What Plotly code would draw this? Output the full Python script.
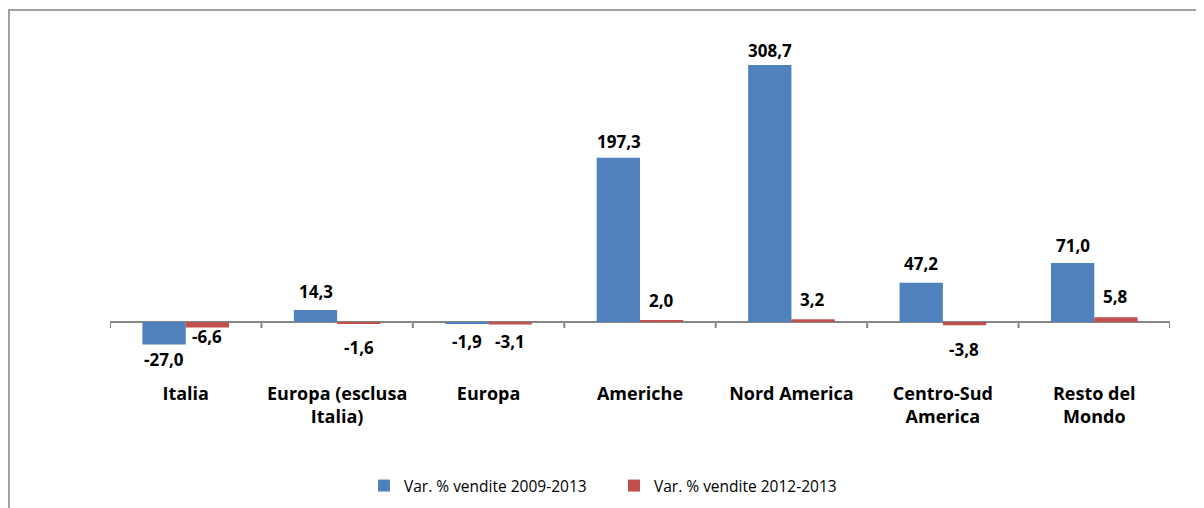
import plotly.graph_objects as go

categories = ["Italia", "Europa (esclusa<br>Italia)", "Europa", "Americhe",
              "Nord America", "Centro-Sud<br>America", "Resto del<br>Mondo"]
series_names = ["Var. % vendite 2009-2013", "Var. % vendite 2012-2013"]
vendite_2009_2013 = [-27.0, 14.3, -1.9, 197.3, 308.7, 47.2, 71.0]
vendite_2012_2013 = [-6.6, -1.6, -3.1, 2.0, 3.2, -3.8, 5.8]

colors = ["#4F81BD", "#C0504D"]
BOLD_FONT = "'Open Sans', Lato, sans-serif"
REG_FONT = "'Open Sans', Lato, sans-serif"

# label vertical offsets (pixels, relative to bar end)
shift_blue = [-15.5, 18.5, -18.4, 16.3, 14.6, 19.5, 17.0]
shift_red = [-9.0, -24.0, -17.4, 20.3, 20.3, -24.8, 20.2]

def fmt(v):
    return f"{v:.1f}".replace(".", ",")

x_idx = list(range(len(categories)))

fig = go.Figure()
for name, vals, col in zip(series_names, [vendite_2009_2013, vendite_2012_2013], colors):
    fig.add_trace(go.Bar(x=x_idx, y=vals, name=name, marker_color=col,
                         marker_line_width=0, hoverinfo="skip"))

label_font = dict(family=BOLD_FONT, size=17, color="#000000", weight="bold")
annotations = []
for i in x_idx:
    annotations.append(dict(x=i, y=vendite_2009_2013[i], xref="x", yref="y",
                            text=fmt(vendite_2009_2013[i]), showarrow=False,
                            xshift=-21.5, yshift=shift_blue[i], yanchor="middle",
                            font=label_font))
    annotations.append(dict(x=i, y=vendite_2012_2013[i], xref="x", yref="y",
                            text=fmt(vendite_2012_2013[i]), showarrow=False,
                            xshift=21.5, yshift=shift_red[i], yanchor="middle",
                            font=label_font))

# page body has an 8px offset; margins compensate so the plot lands where the reference has it
L, T, PW, PH = 102, 22, 1060, 330
shapes = []
for k in range(len(categories) + 1):
    shapes.append(dict(type="line", xref="x", yref="y", x0=k - 0.5, x1=k - 0.5,
                       ysizemode="pixel", yanchor=0, y0=0, y1=-6,
                       line=dict(color="#868686", width=2)))
# outer chart frame
shapes.append(dict(type="rect", xref="paper", yref="paper",
                   x0=(1 - L) / PW, x1=1.3, y0=-0.8, y1=(T + PH - 2) / PH,
                   line=dict(color="#a0a0a0", width=2), fillcolor="rgba(0,0,0,0)", layer="below"))

fig.update_layout(
    width=1204, height=508,
    margin=dict(l=L, r=1204 - L - PW, t=T, b=508 - T - PH),
    paper_bgcolor="white", plot_bgcolor="white",
    barmode="group", bargap=0.428, bargroupgap=0,
    font=dict(family=REG_FONT, color="#000000"),
    showlegend=True,
    legend=dict(orientation="h", x=(364 - 8 - L) / PW, xanchor="left",
                y=(T + PH - (486 - 8)) / PH, yanchor="middle",
                font=dict(family=REG_FONT, size=15.5, color="#000000"),
                entrywidth=205, entrywidthmode="pixels", traceorder="normal"),
    annotations=annotations,
    shapes=shapes,
)
fig.update_xaxes(range=[-0.5, len(categories) - 0.5], tickmode="array", tickvals=x_idx,
                 ticktext=categories, showgrid=False, showline=False, ticks="",
                 ticklabelstandoff=21, zeroline=False,
                 tickfont=dict(family=BOLD_FONT, size=18, color="#000000", weight="bold"))
fig.update_yaxes(range=[-45.65, 350.75], showgrid=False, showticklabels=False, ticks="",
                 showline=False, zeroline=True, zerolinecolor="#868686", zerolinewidth=2)

fig.write_html("out.html")
